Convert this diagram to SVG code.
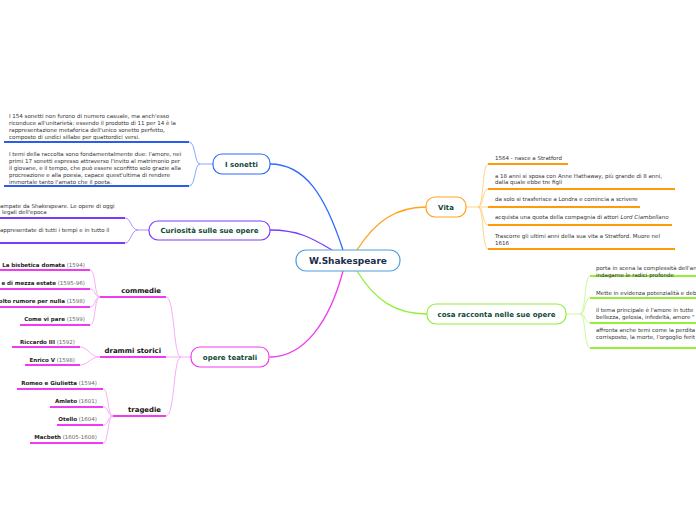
<svg xmlns="http://www.w3.org/2000/svg" width="696" height="520" viewBox="0 0 696 520">
<style>
.t{font-family:"DejaVu Sans",Verdana,sans-serif;font-size:5.5px;fill:#333}
.b{font-weight:bold;fill:#222}
.y{fill:#666}
.nl{font-family:"DejaVu Sans",Verdana,sans-serif;font-size:7px;font-weight:bold;fill:#0f4a38;text-anchor:middle}
.gl{font-family:"DejaVu Sans",Verdana,sans-serif;font-size:6.9px;font-weight:bold;fill:#111;text-anchor:end}
.ce{font-family:"DejaVu Sans",Verdana,sans-serif;font-size:9px;font-weight:bold;fill:#1c2e4a;text-anchor:middle}
.n{fill:#fff;stroke-width:1.2}
path{fill:none}
.m{stroke-width:1.3}
.u{stroke-width:1.8}
.c{stroke-width:0.9}
</style>
<rect width="696" height="520" fill="#fff"/>
<g id="connectors">
  <path class="m" stroke="#2f6bff" d="M343,250 C325,195 305,164 270,164"/>
  <path class="c" stroke="#7c9dff" d="M213,164 H200 M200,164 C194,164 196,142 189,142 M200,164 C194,164 196,186 189,186"/>
  <path class="u" stroke="#2b5cf0" d="M4,142 H189 M4,186 H189"/>
  <path class="m" stroke="#7b3bff" d="M332,250 C312,238 298,230 270,230"/>
  <path class="c" stroke="#a683ff" d="M149,230 H138 M138,230 C131,230 131,218 125,218 M138,230 C131,230 131,243 125,243"/>
  <path class="u" stroke="#7b3bff" d="M0,218 H125 M0,243 H125"/>
  <path class="m" stroke="#ffa21f" d="M357,250 C375,222 395,207 426,207"/>
  <path class="c" stroke="#ffcf7f" d="M466,207 H478 M478,207 C484,207 482,164 488,164 M478,207 C484,207 482,189 488,189 M478,207 H488 M478,207 C484,207 482,225 488,225 M478,207 C484,207 482,249 488,249"/>
  <path class="u" stroke="#ff9a0a" d="M488,164 H568 M488,189 H675 M488,207 H640 M488,225 H672 M488,249 H675"/>
  <path class="m" stroke="#94ee3a" d="M357,271 C375,300 395,314 427,314"/>
  <path class="c" stroke="#c4f78f" d="M566,314 H580 M580,314 C586,314 584,276 590,276 M580,314 C586,314 584,298 590,298 M580,314 C586,314 584,323 590,323 M580,314 C586,314 584,348 590,348"/>
  <path class="u" stroke="#94ee3a" d="M590,276 H696 M590,298 H696 M590,323 H696 M590,348 H696"/>
  <path class="m" stroke="#ee3cee" d="M343,271 C330,320 305,357 270,357"/>
  <path class="c" stroke="#f7a3f7" d="M191,357 H181 M181,357 C173,357 175,297 166,297 M181,357 H166 M181,357 C173,357 175,416 166,416"/>
  <path class="u" stroke="#ee3cee" d="M100,297 H166 M100,357 H166 M113,416 H166"/>
  <path class="c" stroke="#f7a3f7" d="M100,297 C94,297 96,270 90,270 M100,297 C94,297 96,289 90,289 M100,297 C94,297 96,307 90,307 M100,297 C94,297 96,325 90,325"/>
  <path class="u" stroke="#ee3cee" d="M0,270 H90 M0,289 H90 M0,307 H90 M20,325 H90"/>
  <path class="c" stroke="#f7a3f7" d="M100,357 C90,357 88,347 80,347 M100,357 C90,357 88,365 80,365"/>
  <path class="u" stroke="#ee3cee" d="M12,347 H80 M25,365 H80"/>
  <path class="c" stroke="#f7a3f7" d="M113,416 C107,416 109,389 103,389 M113,416 C107,416 109,407 103,407 M113,416 C107,416 109,425 103,425 M113,416 C107,416 109,443 103,443"/>
  <path class="u" stroke="#ee3cee" d="M17,389 H103 M50,407 H103 M57,425 H103 M30,443 H103"/>
</g>
<g id="center">
  <rect class="n" stroke="#4f9fe0" x="296" y="250" width="104" height="21" rx="10"/>
  <text class="ce" x="348" y="263.5">W.Shakespeare</text>
</g>
<g id="sonetti">
  <rect class="n" stroke="#2f6bff" x="213" y="154" width="57" height="20" rx="9"/>
  <text class="nl" x="241.5" y="166.5">I sonetti</text>
</g>
<g id="sonetti-1">
  <text class="t" x="9" y="117.5">I 154 sonetti non furono di numero casuale, ma anch'esso</text>
  <text class="t" x="9" y="124.5">riconduce all'unitarietà: essendo il prodotto di 11 per 14 è la</text>
  <text class="t" x="9" y="131.5">rappresentazione metaforica dell'unico sonetto perfetto,</text>
  <text class="t" x="9" y="138.5">composto di undici sillabe per quattordici versi.</text>
</g>
<g id="sonetti-2">
  <text class="t" x="9" y="156">I temi della raccolta sono fondamentalmente due: l'amore, nei</text>
  <text class="t" x="9" y="163">primi 17 sonetti espresso attraverso l'invito al matrimonio per</text>
  <text class="t" x="9" y="170">il giovane, e il tempo, che può essere sconfitto solo grazie alla</text>
  <text class="t" x="9" y="177">procreazione e alla poesia, capace quest'ultima di rendere</text>
  <text class="t" x="9" y="184">immortale tanto l'amato che il poeta.</text>
</g>
<g id="curiosita">
  <rect class="n" stroke="#7b3bff" x="149" y="221" width="121" height="19" rx="9"/>
  <text class="nl" x="209.5" y="233">Curiosità sulle sue opere</text>
</g>
<g id="curiosita-1">
  <text class="t" x="0" y="208">ampate da Shakespeare. Le opere di oggi</text>
  <text class="t" x="2" y="214">legali dell'epoca</text>
</g>
<g id="curiosita-2">
  <text class="t" x="0" y="232">appresentate di tutti i tempi e in tutto il</text>
</g>
<g id="vita">
  <rect class="n" stroke="#ffa21f" x="426" y="197" width="40" height="20" rx="9"/>
  <text class="nl" x="446" y="209.5">Vita</text>
</g>
<g id="vita-items">
  <text class="t" x="495" y="160">1564 - nasce a Stratford</text>
  <text class="t" x="495" y="178">a 18 anni si sposa con Anne Hathaway, più grande di 8 anni,</text>
  <text class="t" x="495" y="184">dalla quale ebbe tre figli</text>
  <text class="t" x="495" y="201">da solo si trasferisce a Londra e comincia a scrivere</text>
  <text class="t" x="495" y="219">acquista una quota della compagnia di attori <tspan font-style="italic">Lord Ciambellano</tspan></text>
  <text class="t" x="495" y="237.5">Trascorre gli ultimi anni della sua vita a Stratford. Muore nel</text>
  <text class="t" x="495" y="245">1616</text>
</g>
<g id="cosa-racconta">
  <rect class="n" stroke="#94ee3a" x="427" y="304" width="139" height="20" rx="9"/>
  <text class="nl" x="496.5" y="316.5">cosa racconta nelle sue opere</text>
</g>
<g id="cosa-items">
  <text class="t" x="596" y="270.3">porta in scena la complessità dell'an</text>
  <text class="t" x="596" y="277">indagarne le radici profonde</text>
  <text class="t" x="596" y="295.3">Mette in evidenza potenzialità e deb</text>
  <text class="t" x="596" y="312">il tema principale è l'amore in tutte</text>
  <text class="t" x="596" y="318.7">bellezza, gelosia, infedeltà, amore "</text>
  <text class="t" x="596" y="332">affronta anche temi come la perdita</text>
  <text class="t" x="596" y="338.7">corrisposto, la morte, l'orgoglio ferit</text>
</g>
<g id="opere-teatrali">
  <rect class="n" stroke="#ee3cee" x="191" y="347" width="78" height="20" rx="9"/>
  <text class="nl" x="230" y="359.5">opere teatrali</text>
</g>
<g id="commedie">
  <text class="gl" x="161" y="293">commedie</text>
  <text class="t" text-anchor="end" x="85" y="267"><tspan class="b">La bisbetica domata</tspan> <tspan class="y">(1594)</tspan></text>
  <text class="t" text-anchor="end" x="85" y="285"><tspan class="b">e di mezza estate</tspan> <tspan class="y">(1595-96)</tspan></text>
  <text class="t" text-anchor="end" x="85" y="303"><tspan class="b">olto rumore per nulla</tspan> <tspan class="y">(1598)</tspan></text>
  <text class="t" text-anchor="end" x="85" y="321"><tspan class="b">Come vi pare</tspan> <tspan class="y">(1599)</tspan></text>
</g>
<g id="drammi-storici">
  <text class="gl" x="161" y="352.5">drammi storici</text>
  <text class="t" text-anchor="end" x="75" y="344"><tspan class="b">Riccardo III</tspan> <tspan class="y">(1592)</tspan></text>
  <text class="t" text-anchor="end" x="75" y="361.7"><tspan class="b">Enrico V</tspan> <tspan class="y">(1598)</tspan></text>
</g>
<g id="tragedie">
  <text class="gl" x="161" y="411.5">tragedie</text>
  <text class="t" text-anchor="end" x="97" y="384.7"><tspan class="b">Romeo e Giulietta</tspan> <tspan class="y">(1594)</tspan></text>
  <text class="t" text-anchor="end" x="97" y="403"><tspan class="b">Amleto</tspan> <tspan class="y">(1601)</tspan></text>
  <text class="t" text-anchor="end" x="97" y="421"><tspan class="b">Otello</tspan> <tspan class="y">(1604)</tspan></text>
  <text class="t" text-anchor="end" x="97" y="439"><tspan class="b">Macbeth</tspan> <tspan class="y">(1605-1608)</tspan></text>
</g>
</svg>
